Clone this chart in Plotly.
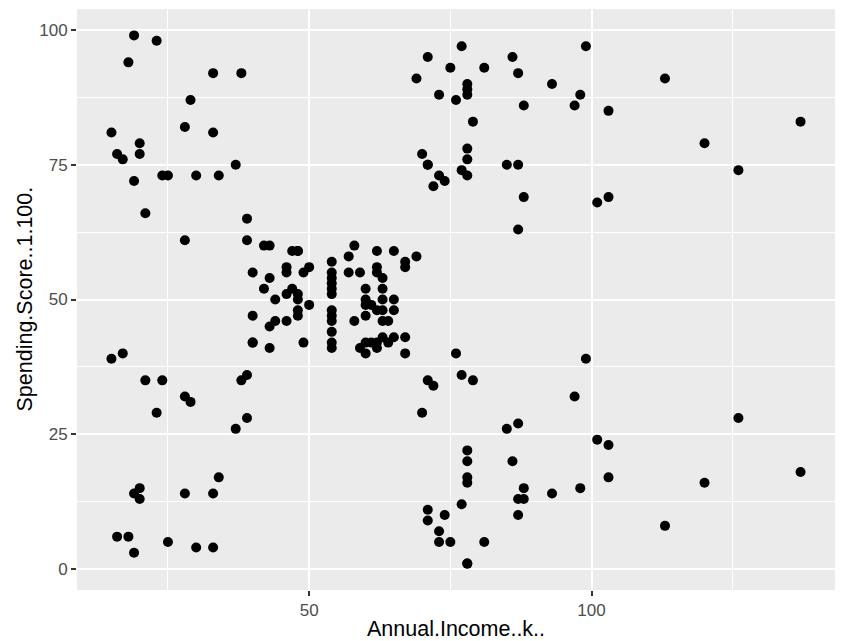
import plotly.graph_objects as go

annual_income = [15,15,16,16,17,17,18,18,19,19,19,19,20,20,20,20,21,21,23,23,24,24,25,25,28,28,28,28,29,29,30,30,33,33,33,33,34,34,37,37,38,38,39,39,39,39,40,40,40,40,42,42,43,43,43,43,44,44,46,46,46,46,47,47,48,48,48,48,48,48,49,49,50,50,54,54,54,54,54,54,54,54,54,54,54,54,57,57,58,58,59,59,60,60,60,60,60,60,61,61,62,62,62,62,62,62,63,63,63,63,63,63,64,64,65,65,65,65,67,67,67,67,69,69,70,70,71,71,71,71,71,71,72,72,73,73,73,73,74,74,75,75,76,76,77,77,77,77,78,78,78,78,78,78,78,78,78,78,78,78,79,79,81,81,85,85,86,86,87,87,87,87,87,87,88,88,88,88,93,93,97,97,98,98,99,99,101,101,103,103,103,103,113,113,120,120,126,126,137,137]
spending_score = [39,81,6,77,40,76,6,94,3,72,14,99,15,77,13,79,35,66,29,98,35,73,5,73,14,82,32,61,31,87,4,73,4,92,14,81,17,73,26,75,35,92,36,61,28,65,55,47,42,42,52,60,54,60,45,41,50,46,51,46,56,55,52,59,51,59,50,48,59,47,55,42,49,56,47,54,53,48,52,42,51,55,41,44,57,46,58,55,60,46,55,41,49,40,42,52,47,50,42,49,41,48,59,55,56,42,50,46,43,48,52,54,42,46,48,50,43,59,43,57,56,40,58,91,29,77,35,95,11,75,9,75,34,71,5,88,7,73,10,72,5,93,40,87,12,97,36,74,22,90,17,88,20,76,16,89,1,78,1,73,35,83,5,93,26,75,20,95,27,63,13,75,10,92,13,86,15,69,14,90,32,86,15,88,39,97,24,68,17,85,23,69,8,91,16,79,28,74,18,83]

x_ticks = [50, 100]
y_ticks = [0, 25, 50, 75, 100]
x_title = "Annual.Income..k.."
y_title = "Spending.Score..1.100."

FONT = "Liberation Sans, Arial, sans-serif"

fig = go.Figure()
fig.add_trace(go.Scatter(
    x=annual_income, y=spending_score, mode="markers",
    marker=dict(color="black", size=10, line=dict(width=0)),
    showlegend=False, hoverinfo="x+y",
))

axis_common = dict(
    automargin=False,
    showgrid=True, gridcolor="white", gridwidth=1.8,
    zeroline=False, showline=False,
    ticks="outside", ticklen=5, tickwidth=1.5, tickcolor="#333333",
    tickfont=dict(family=FONT, size=17, color="#4D4D4D"),
    minor=dict(showgrid=True, gridcolor="white", gridwidth=0.9, ticks=""),
)

fig.update_layout(
    width=855, height=641,
    paper_bgcolor="white", plot_bgcolor="#EBEBEB",
    margin=dict(l=77, r=20, t=9, b=50.5, pad=0),
    font=dict(family=FONT, color="black"),
    xaxis=dict(
        range=[8.9, 143.1], tickvals=x_ticks, ticktext=[str(v) for v in x_ticks],
        **axis_common,
    ),
    yaxis=dict(
        range=[-3.9, 103.9], tickvals=y_ticks, ticktext=[str(v) for v in y_ticks],
        **axis_common,
    ),
    annotations=[
        dict(text=x_title, xref="paper", yref="paper", x=0.5, y=0,
             xanchor="center", yanchor="middle", yshift=-38.5, showarrow=False,
             font=dict(family=FONT, size=21.5, color="black")),
        dict(text=y_title, xref="paper", yref="paper", x=0, y=0.5,
             xanchor="center", yanchor="middle", xshift=-53, textangle=-90,
             showarrow=False, font=dict(family=FONT, size=21.5, color="black")),
    ],
)
fig.update_xaxes(minor=dict(tickvals=[25, 75, 125]))
fig.update_yaxes(minor=dict(tickvals=[12.5, 37.5, 62.5, 87.5]))

fig.write_html(
    "out.html",
    config={"displayModeBar": False},
    post_script="document.documentElement.style.margin='0';document.body.style.margin='0';document.body.style.overflow='hidden';",
)
